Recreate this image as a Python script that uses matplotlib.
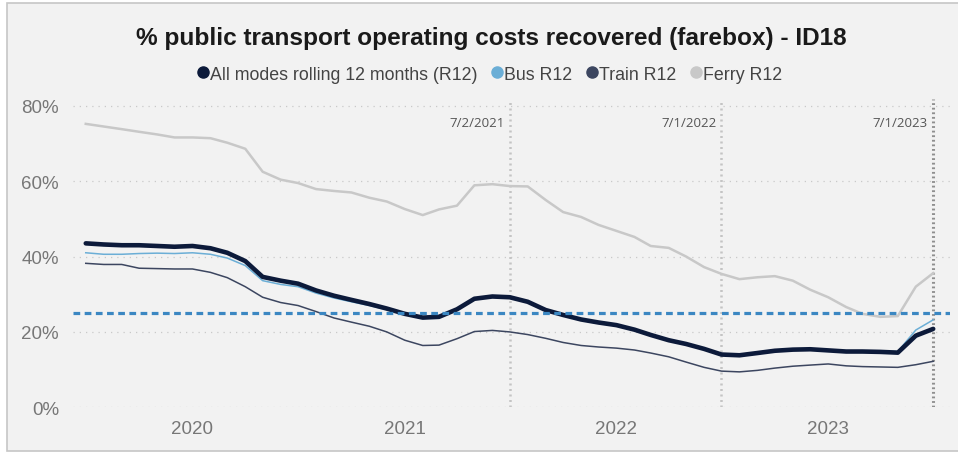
"""
Farebox recovery chart (ID18): % of public transport operating costs
recovered, rolling 12 months, by mode. Saves out.png.
"""

import matplotlib
matplotlib.use("Agg")
import matplotlib.pyplot as plt
from matplotlib.lines import Line2D
from matplotlib.patches import Rectangle
import pandas as pd

# ---- data (monthly, Jul 2019 .. Jul 2023) ----
months = pd.date_range("2019-07-01", periods=49, freq="MS")

all_modes = [43.5, 43.2, 43.0, 43.0, 42.8, 42.6, 42.8, 42.2, 41.0, 38.8,
             34.6, 33.6, 32.8, 31.0, 29.6, 28.5, 27.4, 26.2, 24.8, 23.8,
             24.0, 26.0, 28.8, 29.4, 29.2, 28.0, 25.8, 24.5, 23.3, 22.5,
             21.8, 20.6, 19.2, 17.8, 16.8, 15.5, 14.0, 13.8, 14.4, 15.0,
             15.3, 15.4, 15.1, 14.8, 14.8, 14.7, 14.5, 19.0, 20.8]

bus = [41.0, 40.6, 40.6, 40.8, 40.9, 40.8, 41.0, 40.6, 39.6, 37.6,
       33.6, 32.6, 32.0, 30.3, 29.0, 28.0, 27.0, 25.9, 24.6, 23.6,
       23.8, 25.8, 28.6, 29.2, 29.0, 27.8, 25.6, 24.3, 23.1, 22.3,
       21.6, 20.5, 19.1, 17.8, 16.8, 15.5, 14.2, 14.0, 14.6, 15.2,
       15.5, 15.5, 15.2, 15.0, 15.0, 14.9, 14.8, 20.5, 23.2]

train = [38.2, 37.9, 37.9, 36.9, 36.8, 36.7, 36.7, 35.8, 34.4, 32.0,
         29.2, 27.8, 27.0, 25.4, 23.7, 22.6, 21.5, 20.0, 17.8, 16.4,
         16.5, 18.2, 20.1, 20.4, 20.0, 19.3, 18.3, 17.2, 16.4, 16.0,
         15.7, 15.2, 14.4, 13.4, 12.0, 10.6, 9.6, 9.4, 9.8, 10.4,
         10.9, 11.2, 11.5, 11.0, 10.8, 10.7, 10.6, 11.3, 12.2]

ferry = [75.2, 74.5, 73.8, 73.1, 72.4, 71.6, 71.6, 71.4, 70.2, 68.6,
         62.5, 60.4, 59.5, 57.9, 57.4, 57.0, 55.6, 54.6, 52.6, 51.0,
         52.5, 53.5, 58.9, 59.2, 58.7, 58.6, 55.0, 51.8, 50.5, 48.4,
         46.8, 45.2, 42.8, 42.3, 40.0, 37.2, 35.4, 34.0, 34.5, 34.8,
         33.6, 31.2, 29.2, 26.6, 24.8, 24.0, 24.2, 32.0, 35.6]

target = 25.0
ref_dates = ["2021-07-02", "2022-07-01", "2023-07-01"]
ref_labels = ["7/2/2021", "7/1/2022", "7/1/2023"]
year_ticks = ["2020-01-01", "2021-01-01", "2022-01-01", "2023-01-01"]
year_labels = ["2020", "2021", "2022", "2023"]
y_ticks = [0, 20, 40, 60, 80]

# ---- style ----
plt.rcParams["font.family"] = ["Liberation Sans", "DejaVu Sans"]

c_all = "#0c1a3a"
c_bus = "#6baed6"
c_train = "#3c4660"
c_ferry = "#c8c8c8"
c_target = "#3b87c2"

fig = plt.figure(figsize=(9.58, 4.56), dpi=100, facecolor="white")
# card background + frame, drawn behind the axes
fig.patches.append(Rectangle((7 / 958, 4 / 456), 1.0, 448 / 456,
                             transform=fig.transFigure, facecolor="#f2f2f2",
                             edgecolor="#c6c6c6", linewidth=1.2, zorder=-5))

ax = fig.add_axes([73 / 958, (456 - 408.3) / 456, 877 / 958, 308.3 / 456])
ax.set_facecolor("none")
ax.set_zorder(2)

# gridlines
for v in y_ticks:
    ax.axhline(v, color="#c9c9c9", linewidth=0.9, linestyle=(0, (1, 4)), zorder=1)

# reference date lines
for i, d in enumerate(ref_dates):
    dd = pd.Timestamp(d)
    last = i == len(ref_dates) - 1
    ax.axvline(dd, color="#8f8f8f" if last else "#c4c4c4",
               linewidth=2.2 if last else 1.8,
               linestyle=(0, (0.6, 0.9)) if last else (0, (0.8, 1.4)), zorder=2)
    ax.text(dd - pd.Timedelta(days=9), 75.6, ref_labels[i], ha="right",
            va="center", fontsize=9.5, color="#555555",
            family=["Open Sans", "DejaVu Sans"])

ax.plot(months, ferry, color=c_ferry, linewidth=1.8, zorder=3)
ax.plot(months, train, color=c_train, linewidth=1.1, zorder=4)
ax.plot(months, bus, color=c_bus, linewidth=1.1, zorder=5)
ax.plot(months, all_modes, color=c_all, linewidth=3.3, zorder=6,
        solid_capstyle="round", solid_joinstyle="round")
ax.axhline(target, color=c_target, linewidth=2.3,
           linestyle=(0, (2.1, 1.4)), zorder=7)

ax.set_xlim(pd.Timestamp("2019-06-09"), pd.Timestamp("2023-07-30"))
ax.set_ylim(0, 81.8)
ax.set_yticks(y_ticks)
ax.set_yticklabels([f"{v}%" for v in y_ticks])
ax.set_xticks([pd.Timestamp(t) for t in year_ticks])
ax.set_xticklabels(year_labels)
ax.tick_params(axis="both", length=0, labelsize=13.5, colors="#777777")
ax.tick_params(axis="y", pad=10)
ax.tick_params(axis="x", pad=9)
for s in ax.spines.values():
    s.set_visible(False)

fig.text(491 / 958, 1 - 38 / 456, "% public transport operating costs recovered (farebox) - ID18",
         ha="center", va="center", fontsize=17.6, fontweight="bold", color="#1a1a1a")

handles = [Line2D([], [], linestyle="none", marker="o", markersize=8, color=c)
           for c in (c_all, c_bus, c_train, c_ferry)]
labels = ["All modes rolling 12 months (R12)", "Bus R12", "Train R12", "Ferry R12"]
fig.legend(handles, labels, loc="center", bbox_to_anchor=(487 / 958, 1 - 75 / 456),
           ncol=4, frameon=False, fontsize=12.8, handletextpad=-0.2,
           columnspacing=0.5, handlelength=1.2, labelcolor="#444444")

fig.savefig("out.png", dpi=100, facecolor=fig.get_facecolor())
